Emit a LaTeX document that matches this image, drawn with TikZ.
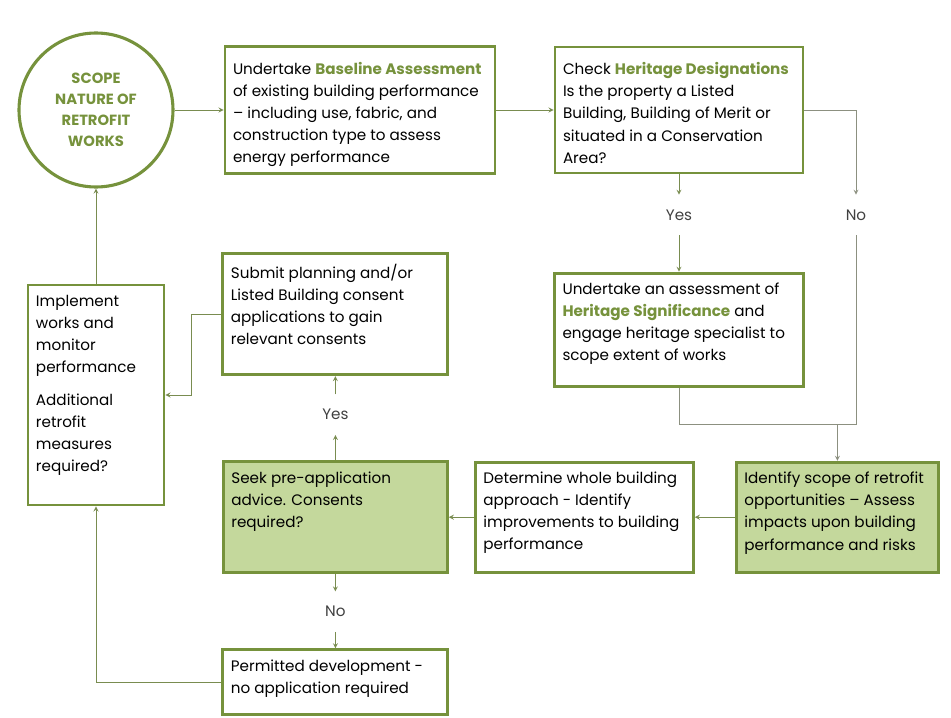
\documentclass[tikz,border=0pt]{standalone}
\usepackage{fontspec}
\setmainfont{Poppins}
\usetikzlibrary{positioning}
\usetikzlibrary{shapes.geometric, arrows}
\definecolor{olivedark}{HTML}{76923C}
\definecolor{olivelight}{HTML}{C4D89C}
\definecolor{linkgrey}{HTML}{8C9080}
\newcommand{\boxtext}[4][0pt]{\parbox[t][#3][t]{#2}{\raggedright\vspace*{#1}#4}}
\newcommand{\greenterm}[1]{{\bfseries\color{olivedark}#1}}
\tikzstyle{stepbox} = [rectangle, draw=olivedark, line width=2pt, inner xsep=0.2cm, inner ysep=0.25cm, fill=white, font=\fontsize{10.8}{15.7}\selectfont]
\tikzstyle{greenbox} = [stepbox, fill=olivelight]
\tikzstyle{scopecircle} = [circle, draw=olivedark, line width=2.2pt, minimum size=3.85cm, align=center, text=olivedark, font=\fontsize{10.5}{14.8}\selectfont\bfseries]
\tikzstyle{answer} = [minimum height=1cm, inner sep=0pt, text=black!75, font=\fontsize{10.8}{12}\selectfont]
\tikzstyle{arrow} = [->, >=stealth, draw=olivedark!70!gray, line width=0.6pt]
\tikzstyle{link} = [draw=linkgrey, line width=0.6pt]

\begin{document}
\begin{tikzpicture}[node distance=5cm]
	\useasboundingbox (-2.4,2.75) rectangle (21.375,-15.2);

	\node (scope) [scopecircle] {SCOPE\\NATURE OF\\RETROFIT\\WORKS};
	\node (baseline) [stepbox, right of=scope, xshift=1.6cm] {\boxtext[4pt]{6.35cm}{2.675cm}{Undertake \greenterm{Baseline Assessment}\\of existing building performance\\– including use, fabric, and\\construction type to assess\\energy performance}};
	\node (designation) [stepbox, right of=baseline, xshift=2.975cm] {\boxtext[4pt]{5.8cm}{2.65cm}{Check \greenterm{Heritage Designations}\\Is the property a Listed\\Building, Building of Merit or\\situated in a Conservation\\Area?}};
	\node (yes1) [answer, below of=designation, node distance=2.625cm] {Yes};
	\node (no1) [answer, right of=yes1, node distance=4.425cm] {No};
	\node (significance) [stepbox, below of=designation, yshift=-0.49cm] {\boxtext{5.825cm}{2.325cm}{Undertake an assessment of\\\greenterm{Heritage Significance} and\\engage heritage specialist to\\scope extent of works}};
	\node (opportunities) [greenbox, below of=significance, xshift=3.96cm, yshift=0.31cm] {\boxtext{4.65cm}{2.25cm}{Identify scope of retrofit\\opportunities – Assess\\impacts upon building\\performance and risks}};
	\node (approach) [stepbox, left of=opportunities, xshift=-1.325cm] {\boxtext{5.05cm}{2.25cm}{Determine whole building\\approach - Identify\\improvements to building\\performance}};
	\node (preapp) [greenbox, left of=approach, xshift=-1.225cm] {\boxtext{5.2cm}{2.275cm}{Seek pre-application\\advice. Consents\\required?}};
	\node (yes2) [answer, above of=preapp, node distance=2.5625cm] {Yes};
	\node (submit) [stepbox, above of=preapp, yshift=0.075cm] {\boxtext{5.225cm}{2.525cm}{Submit planning and/or\\Listed Building consent\\applications to gain\\relevant consents}};
	\node (no2) [answer, below of=preapp, node distance=2.3625cm] {No};
	\node (permitted) [stepbox, below of=preapp, yshift=0.875cm] {\boxtext{5.225cm}{1.125cm}{Permitted development -\\no application required}};
	\node (implement) [stepbox, below of=scope, yshift=-2.125cm] {\boxtext{3.0cm}{5.0cm}{Implement\\works and\\monitor\\performance\\[0.275cm]Additional\\retrofit\\measures\\required?}};

	\draw [arrow] (scope) -- (baseline);
	\draw [arrow] (baseline) -- (designation);
	\draw [arrow] (designation.south) -- (yes1.north);
	\draw [arrow] (yes1.south) -- (significance.north);
	\draw [arrow, draw=linkgrey] (designation.east) -| (no1.north);
	\coordinate (merge) at ([yshift=-0.925cm]significance.south -| no1);
	\draw [link] (no1.south) -- (merge);
	\draw [link] (significance.south) |- (merge);
	\draw [arrow, draw=linkgrey] (merge -| opportunities.north) -- (opportunities.north);
	\draw [arrow] (opportunities.west) -- (approach.east);
	\draw [arrow] (approach.west) -- (approach.west -| preapp.east);
	\draw [arrow] (preapp.north) -- (yes2.south);
	\draw [arrow] (yes2.north) -- (submit.south);
	\draw [arrow] (preapp.south) -- (no2.north);
	\draw [arrow] (no2.south) -- (permitted.north);
	\draw [arrow] (submit.west) -- ++(-0.75,0) |- (implement.east);
	\draw [arrow] (permitted.west) -| (implement.south);
	\draw [arrow] (implement) -- (scope);

\end{tikzpicture}
\end{document}
